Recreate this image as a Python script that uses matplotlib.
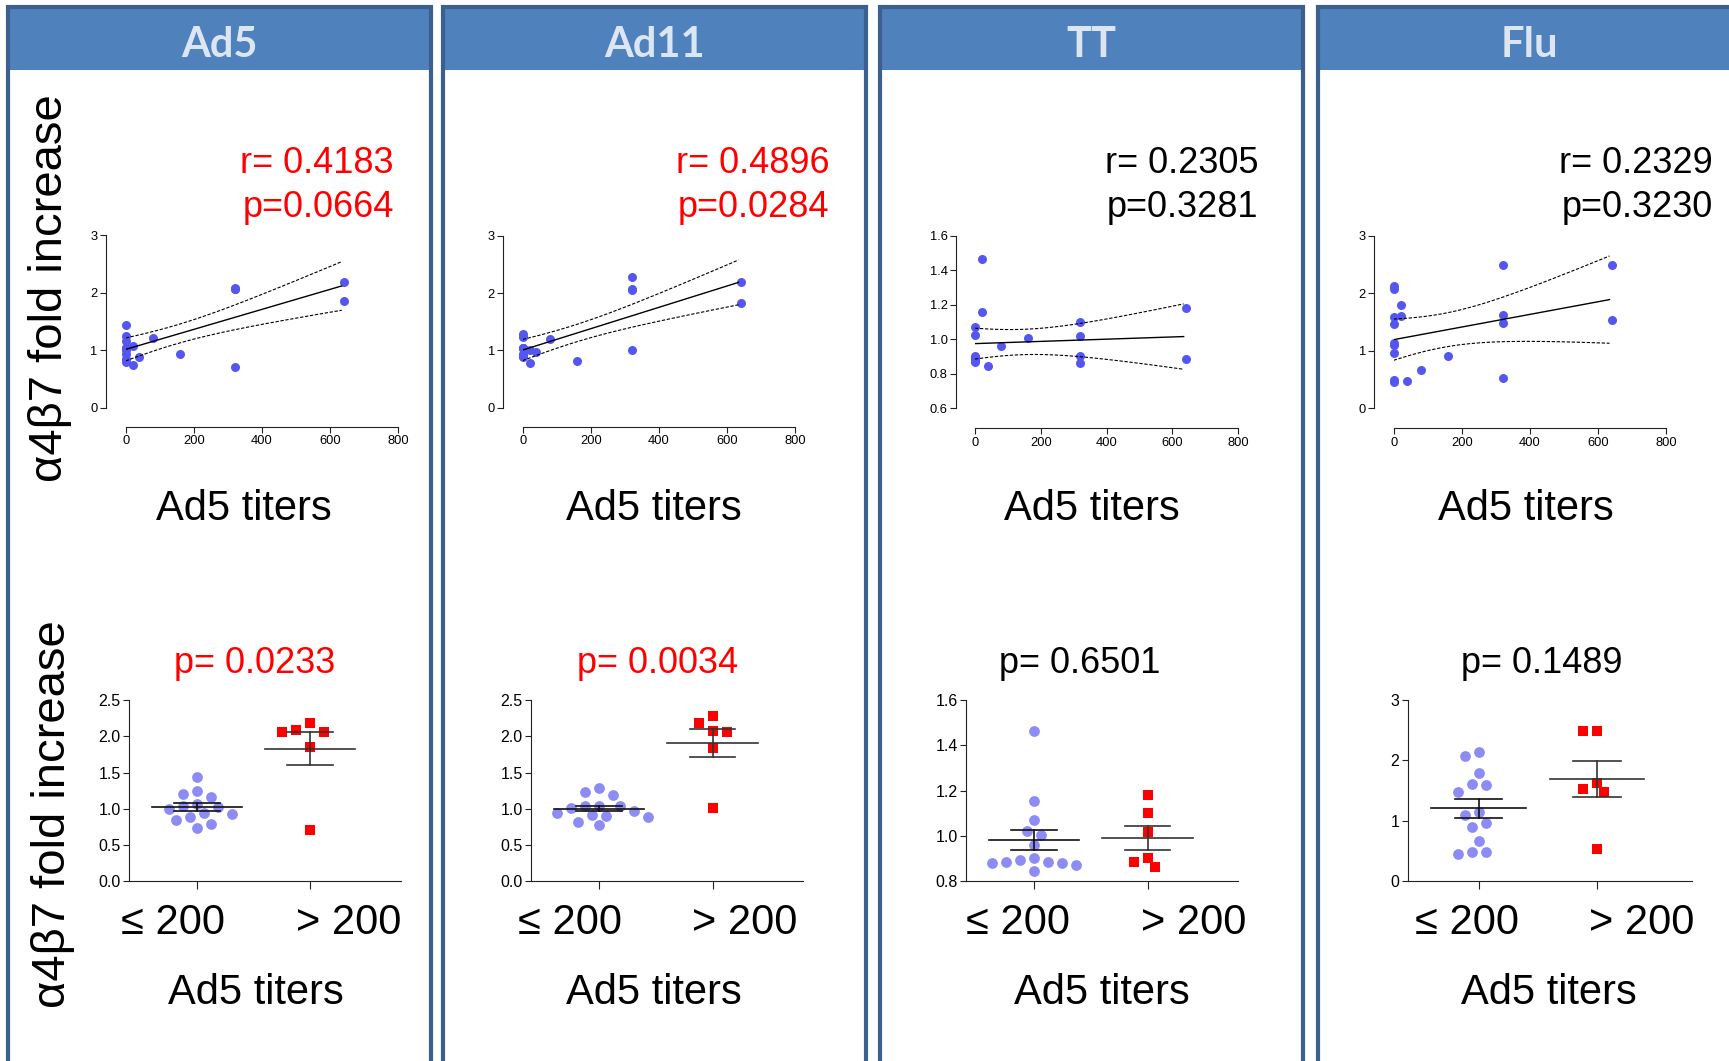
import numpy as np
import matplotlib
matplotlib.use("Agg")
import matplotlib.pyplot as plt
from matplotlib.patches import Rectangle
from matplotlib.ticker import FormatStrFormatter

plt.rcParams['font.family'] = ['Liberation Sans', 'DejaVu Sans']

## data
antigens = ["Ad5", "Ad11", "TT", "Flu"]
titers = [0, 0, 0, 0, 0, 0, 0, 0, 0, 20, 20, 40, 80, 160, 320, 320, 320, 320, 640, 640]
fold_ad5 = [1.434, 1.245, 1.167, 1.043, 1.029, 0.997, 0.938, 0.846, 0.790, 1.066,
            0.735, 0.887, 1.208, 0.928, 2.086, 2.063, 2.063, 0.708, 2.178, 1.857]
fold_ad11 = [1.282, 1.236, 1.039, 1.039, 1.039, 0.938, 0.919, 0.901, 0.892, 1.006,
             0.772, 0.970, 1.190, 0.818, 2.279, 2.077, 2.054, 1.006, 2.188, 1.834]
fold_tt = [1.071, 1.024, 0.904, 0.894, 0.887, 0.885, 0.882, 0.879, 0.871, 1.465,
           1.156, 0.847, 0.962, 1.006, 1.101, 1.018, 0.901, 0.862, 1.181, 0.885]
fold_flu = [2.134, 2.068, 1.594, 1.472, 1.142, 1.098, 0.960, 0.491, 0.458, 1.787,
            1.610, 0.480, 0.673, 0.904, 2.493, 1.621, 1.478, 0.535, 2.493, 1.533]
folds = [fold_ad5, fold_ad11, fold_tt, fold_flu]

r_text = ["r= 0.4183", "r= 0.4896", "r= 0.2305", "r= 0.2329"]
p_corr = ["p=0.0664", "p=0.0284", "p=0.3281", "p=0.3230"]
p_group = ["p= 0.0233", "p= 0.0034", "p= 0.6501", "p= 0.1489"]
significant = [True, True, False, False]
group_labels = ["\u2264 200", "> 200"]
cutoff = 200
xlabel = "Ad5 titers"
ylabel = "\u03b14\u03b27 fold increase"

top_xticks = [0, 200, 400, 600, 800]
top_yticks = [[0, 1, 2, 3], [0, 1, 2, 3], [0.6, 0.8, 1.0, 1.2, 1.4, 1.6], [0, 1, 2, 3]]
bot_yticks = [[0, 0.5, 1.0, 1.5, 2.0, 2.5], [0, 0.5, 1.0, 1.5, 2.0, 2.5],
              [0.8, 1.0, 1.2, 1.4, 1.6], [0, 1, 2, 3]]

## layout (pixels of the 1729x1061 picture)
W, H = 1729, 1061
PT = 72 / 100.0
panel_left = [8, 443, 880, 1318]
panel_w = 423
top_box = [(125.7, 398.3, 235, 407.7), (522.7, 795, 235.7, 407.7),
           (975, 1238.3, 235.7, 408.3), (1393.7, 1666, 235.7, 408.3)]
top_off = [(19.7, 19), (19.4, 19), (19, 20), (19.4, 20)]
bot_box = [(129, 400.7), (531, 803.3), (966, 1238.3), (1407.7, 1691.7)]
bot_y = (700, 881.3)
r_x = [393.7, 829.2, 1258.2, 1712.5]
xl_top_x = [243.7, 653.9, 1091.6, 1526.1]
pg_x = [254.7, 657.2, 1079.5, 1541.6]
lab_le_x = [173, 570, 1018, 1466.6]
lab_gt_x = [348.5, 745, 1194, 1642]
xl_bot_x = [256, 654, 1101.6, 1549]

blue_dot = '#5555f0'
light_dot = '#8c8cf4'
red = '#ff0000'
border = '#3b5f8f'
header = '#4f81bd'


def fx(x):
    return x / W


def fy(y):
    return 1 - y / H


def add_ax(x0, x1, y0, y1):
    return fig.add_axes([fx(x0), fy(y1), (x1 - x0) / W, (y1 - y0) / H])


def swarm(vals, px_unit, px_cat, step=7.0, dmin=11.0):
    order = np.argsort(vals)[::-1]
    cands = [0.0]
    for k in range(1, 10):
        cands += [-k * step, k * step]
    placed = []
    offs = np.zeros(len(vals))
    for i in order:
        y = vals[i] * px_unit
        for c in cands:
            if all((c - ox) ** 2 + (y - oy) ** 2 >= dmin ** 2 for ox, oy in placed):
                break
        placed.append((c, y))
        offs[i] = c / px_cat
    return offs


def style(ax, fs):
    for s in ['top', 'right']:
        ax.spines[s].set_visible(False)
    for s in ['left', 'bottom']:
        ax.spines[s].set_linewidth(0.8)
        ax.spines[s].set_color('#222222')
    ax.patch.set_visible(False)
    ax.tick_params(labelsize=fs, width=0.8, color='#222222', pad=2)


fig = plt.figure(figsize=(W / 100, H / 100), dpi=100)

for i in range(4):
    left = panel_left[i]
    fig.add_artist(Rectangle((fx(left), fy(70)), panel_w / W, (70 - 7) / H,
                             transform=fig.transFigure, facecolor=header, edgecolor='none'))
    fig.add_artist(Rectangle((fx(left), fy(1080)), panel_w / W, (1080 - 7) / H,
                             transform=fig.transFigure, facecolor='none',
                             edgecolor=border, linewidth=3.0))
    fig.text(fx(left + panel_w / 2), fy(57), antigens[i], family=['Lato', 'DejaVu Sans'],
             fontweight='bold', fontsize=30, color='#dce6f2', ha='center', va='baseline')

    x = np.array(titers, dtype=float)
    y = np.array(folds[i])
    col = red if significant[i] else 'black'

    # correlation panel
    x0, x1, y0, y1 = top_box[i]
    ax = add_ax(x0, x1, y0, y1)
    style(ax, 9.3)
    ax.spines['left'].set_position(('outward', top_off[i][0] * PT))
    ax.spines['bottom'].set_position(('outward', top_off[i][1] * PT))
    ax.set_xlim(0, 800)
    ax.set_ylim(top_yticks[i][0], top_yticks[i][-1])
    ax.set_xticks(top_xticks)
    ax.set_yticks(top_yticks[i])
    if i == 2:
        ax.yaxis.set_major_formatter(FormatStrFormatter('%.1f'))
    ax.tick_params(length=4)
    ax.scatter(x, y, s=42, color=blue_dot, clip_on=False, zorder=3, linewidths=0)
    n = len(x)
    b, a = np.polyfit(x, y, 1)
    xs = np.linspace(x.min(), x.max() - 6, 100)
    ys = a + b * xs
    resid = y - (a + b * x)
    s_err = np.sqrt(np.sum(resid ** 2) / (n - 2))
    sxx = np.sum((x - x.mean()) ** 2)
    band = 2.101 * s_err * np.sqrt(1.0 / n + (xs - x.mean()) ** 2 / sxx)
    ax.plot(xs, ys, color='black', lw=1.0, zorder=4)
    ax.plot(xs, ys + band, color='black', lw=0.8, ls=(0, (3, 1.5)), zorder=4)
    ax.plot(xs, ys - band, color='black', lw=0.8, ls=(0, (3, 1.5)), zorder=4)

    fig.text(fx(r_x[i]), fy(173), r_text[i], fontsize=26, color=col, ha='right', va='baseline')
    fig.text(fx(r_x[i]), fy(217), p_corr[i], fontsize=26, color=col, ha='right', va='baseline')
    fig.text(fx(xl_top_x[i]), fy(520), xlabel, fontsize=30, ha='center', va='baseline')

    # group comparison panel
    bx0, bx1 = bot_box[i]
    ax2 = add_ax(bx0, bx1, bot_y[0], bot_y[1])
    style(ax2, 11.5)
    ax2.set_xlim(0.4, 2.8)
    ax2.set_ylim(bot_yticks[i][0], bot_yticks[i][-1])
    ax2.set_yticks(bot_yticks[i])
    if i != 3:
        ax2.yaxis.set_major_formatter(FormatStrFormatter('%.1f'))
    ax2.set_xticks([1, 2])
    ax2.set_xticklabels([])
    ax2.tick_params(axis='y', length=4)
    ax2.tick_params(axis='x', length=6)
    px_unit = (bot_y[1] - bot_y[0]) / (bot_yticks[i][-1] - bot_yticks[i][0])
    px_cat = (bx1 - bx0) / 2.4
    low = y[x <= cutoff]
    high = y[x > cutoff]
    for pos, vals, mk, c, sz in [(1, low, 'o', light_dot, 60), (2, high, 's', red, 50)]:
        offs = swarm(vals, px_unit, px_cat)
        ax2.scatter(pos + offs, vals, marker=mk, s=sz, color=c, linewidths=0,
                    clip_on=False, zorder=3)
        m = vals.mean()
        se = vals.std(ddof=1) / np.sqrt(len(vals))
        lc = '#111111' if pos == 1 else '#333333'
        ax2.plot([pos - 0.4, pos + 0.4], [m, m], color=lc, lw=1.2, zorder=4)
        ax2.plot([pos - 0.2, pos + 0.2], [m + se, m + se], color=lc, lw=1.2, zorder=4)
        ax2.plot([pos - 0.2, pos + 0.2], [m - se, m - se], color=lc, lw=1.2, zorder=4)
        ax2.plot([pos, pos], [m - se, m + se], color=lc, lw=1.2, zorder=4)

    fig.text(fx(pg_x[i]), fy(673), p_group[i], fontsize=26, color=col, ha='center', va='baseline')
    fig.text(fx(lab_le_x[i]), fy(933.5), group_labels[0], fontsize=30, ha='center', va='baseline')
    fig.text(fx(lab_gt_x[i]), fy(933.5), group_labels[1], fontsize=30, ha='center', va='baseline')
    fig.text(fx(xl_bot_x[i]), fy(1004), xlabel, fontsize=30, ha='center', va='baseline')

fig.text(fx(49.6), fy(287.8), ylabel, fontsize=34, rotation=90, ha='center', va='center')
fig.text(fx(53), fy(813.8), ylabel, fontsize=34, rotation=90, ha='center', va='center')

fig.savefig("out.png", dpi=100)
